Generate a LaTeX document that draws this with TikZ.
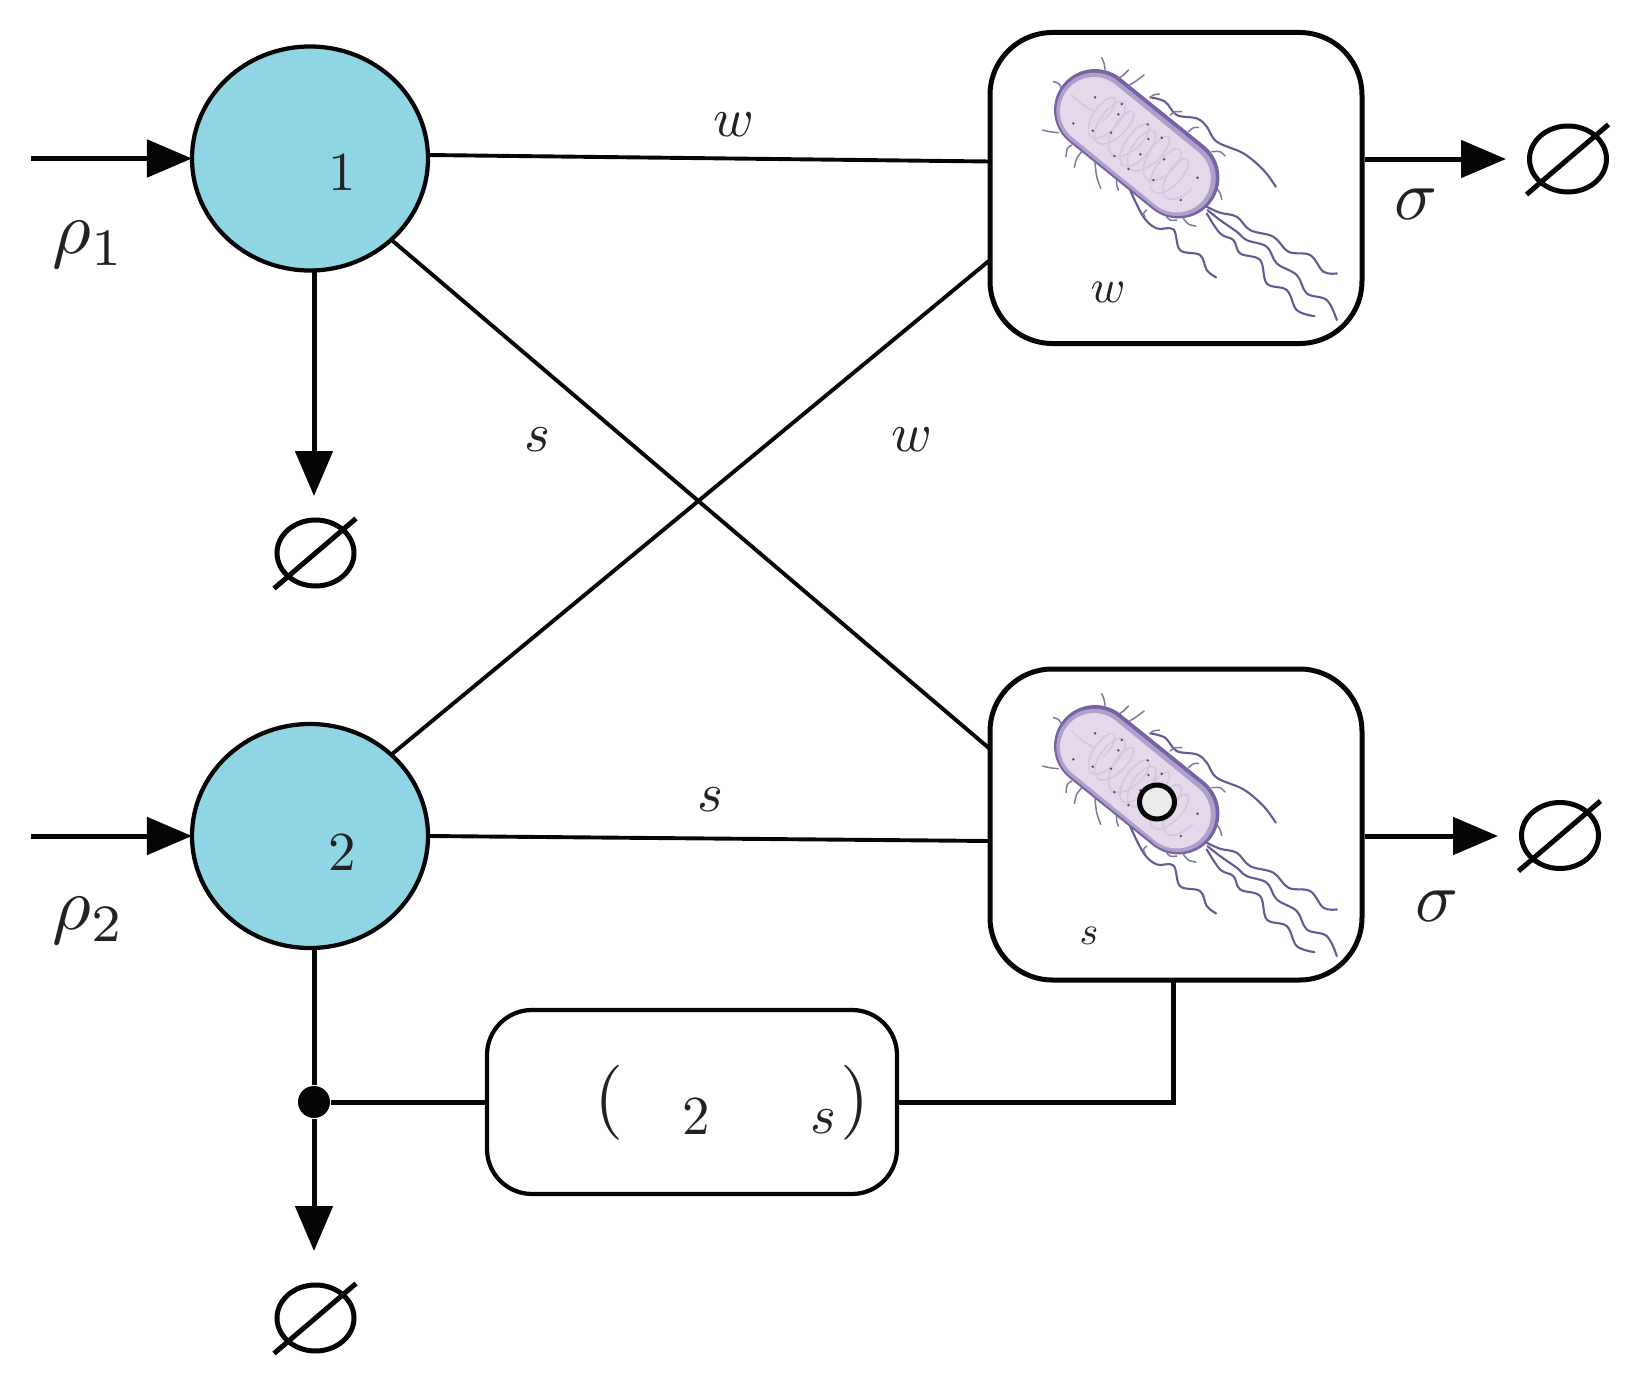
\documentclass[tikz,border=0pt]{standalone}
\usetikzlibrary{arrows.meta,shapes.geometric}
\definecolor{poolblue}{HTML}{90D5E4}
\definecolor{ink}{HTML}{050505}
\definecolor{txt}{HTML}{222222}
\definecolor{cellout}{HTML}{7563A4}
\definecolor{cellmid}{HTML}{AE9FCB}
\definecolor{cellin}{HTML}{E4D8EA}
\definecolor{hair}{HTML}{665A93}
\definecolor{hairlt}{HTML}{7F7A9C}
\definecolor{dna}{HTML}{D5C8E0}
\tikzset{
  x=0.2pt,y=-0.2pt,
  pool/.style={ellipse,draw=ink,fill=poolblue,line width=0.85pt,minimum width=47.2pt,minimum height=44.8pt,inner sep=0pt,outer sep=0pt},
  host/.style={rectangle,draw=ink,fill=white,line width=1pt,rounded corners=12.5pt,minimum width=74.4pt,minimum height=62.2pt,inner sep=0pt},
  env/.style={rectangle,draw=ink,fill=white,line width=0.85pt,rounded corners=9pt,minimum width=82pt,minimum height=36.8pt,inner sep=0pt},
  nul/.style={ellipse,draw=ink,line width=1pt,minimum width=15.4pt,minimum height=13.2pt,inner sep=0pt},
  hub/.style={circle,fill=ink,minimum size=6.4pt,inner sep=0pt},
  spore/.style={ellipse,draw=ink,fill=black!8,line width=1pt,minimum width=7pt,minimum height=6.8pt,inner sep=0pt},
  flow/.style={draw=ink,line width=1pt,-{Triangle[length=9pt,width=7.4pt]}},
  link/.style={draw=ink,line width=0.78pt},
  wire/.style={draw=ink,line width=1pt},
  slash/.style={draw=ink,line width=1pt},
  rate/.style={text=txt,inner sep=0pt,scale=1.5},
  big/.style={text=txt,inner sep=0pt,scale=1.42},
  mid/.style={text=txt,inner sep=0pt,scale=1.1},
  small/.style={text=txt,inner sep=0pt,scale=0.94},
  tiny/.style={text=txt,inner sep=0pt,scale=0.8},
  paren/.style={text=txt,inner sep=0pt,scale=1.5},
  hr/.style={draw=hair,line width=0.42pt,line cap=round,line join=round},
  pil/.style={draw=hairlt,line width=0.3pt,line cap=round,line join=round},
}
\newcommand{\nullset}[3]{%
  \node[nul] (#1) at (#2,#3) {};
  \draw[slash] ([shift={(-8.3pt,-7.1pt)}]#1.center) -- ([shift={(8.1pt,6.9pt)}]#1.center);
}
% bacterium, drawn in 1/3-pixel units from the upper-left of its crop
\newcommand{\bacterium}[2]{%
\begin{scope}[shift={(#1,#2)},x=0.0667pt,y=-0.0667pt]
  \foreach \p in {
    {(510,232)(555,245)(590,285)(650,295)(680,320)(710,365)(790,400)(850,450)(887,500)},
    {(680,560)(720,578)(770,590)(810,630)(880,650)(925,695)(990,705)(1030,755)(1070,760)},
    {(682,570)(720,600)(770,635)(800,660)(860,680)(890,730)(950,765)(980,820)(1040,840)(1070,900)},
    {(680,580)(720,640)(760,660)(780,700)(840,720)(860,790)(920,810)(950,870)(1003,888)},
    {(450,510)(490,590)(530,625)(580,628)(600,690)(660,705)(680,750)(708,772)}}
    {\draw[hr] plot[smooth,tension=0.6] coordinates {\p};}
  \foreach \p in {
    {(375,148)(372,130)(365,113)},{(415,175)(430,165)(445,150)},{(448,195)(465,185)(492,165)},
    {(510,232)(520,225)(538,222)},{(570,285)(585,275)(605,275)},{(625,335)(640,323)(655,322)},
    {(695,395)(720,395)(735,408)},{(710,505)(720,520)(725,538)},{(610,595)(625,612)(647,618)},
    {(560,590)(570,600)(590,600)},{(500,570)(490,580)(495,592)},{(245,205)(235,190)(220,185)},
    {(235,338)(210,335)(188,330)},{(275,375)(262,385)(258,410)},{(305,395)(290,415)(283,442)},
    {(345,430)(350,470)(362,505)},{(410,480)(410,495)(415,510)}}
    {\draw[pil] plot[smooth] coordinates {\p};}
  \draw[line width=16.4pt,line cap=round,cellout] (345,270) -- (595,472);
  \draw[line width=15.2pt,line cap=round,cellmid] (343,272) -- (593,474);
  \draw[line width=13.6pt,line cap=round,cellin] (342,273) -- (590,475);
  \draw[dna,line width=0.32pt] (275,225) .. controls (300,250) and (320,265) .. (345,275);
  \draw[dna,line width=0.32pt] plot[smooth,domain=0:1,samples=220,variable=\u]
    ({345+265*\u+44*sin(2880*\u)+24*cos(2880*\u)+8*sin(1130*\u)},{275+210*\u-54*sin(2880*\u)+20*cos(2880*\u)+8*cos(830*\u)});
  \foreach \d in {(345,232),(425,252),(415,283),(280,310),(338,332),(393,338),(503,313),(505,357),
                  (545,353),(403,408),(481,403),(445,447),(520,480),(602,540),(652,473),(552,418)}
    {\fill[hair!80!black] \d circle[radius=4];}
\end{scope}}
\begin{document}
\begin{tikzpicture}
\useasboundingbox (0,0) rectangle (1630,1386);
% pools
\node[pool] (c1) at (310,158.5) {};
\node[pool] (c2) at (310,836) {};
\node[mid] (n1) at (342,173) {$1$};
\node[mid] (n2) at (342,853) {$2$};
% hosts
\node[host] (b1) at (1176,188) {};
\node[host] (b2) at (1176,824.5) {};
\bacterium{980}{20}
\bacterium{980}{656}
\node[spore] (sp) at (1157,802) {};
\node[small] (bw) at (1108,292) {$w$};
\node[tiny] (bs) at (1089,936) {$s$};
% environment box
\node[env] (e) at (692,1102) {};
\node[paren] (pl) at (609,1103) {$($};
\node[mid] (p2) at (696,1117) {$2$};
\node[mid] (ps) at (823,1122) {$s$};
\node[paren] (pr) at (855,1103) {$)$};
\node[hub] (h) at (314,1102) {};
% sinks
\nullset{z1}{315.5}{553}
\nullset{z2}{315.5}{1318}
\nullset{z3}{1568}{159}
\nullset{z4}{1560}{835.5}
% connector ends
\coordinate (i1) at (31,158.5);
\coordinate (i2) at (31,836);
\coordinate (t1) at (314,496);
\coordinate (t2) at (314,1251);
\coordinate (t3) at (1506,159);
\coordinate (t4) at (1498,836);
\coordinate (a1) at (428,155);
\coordinate (b1a) at (990,161.5);
\coordinate (b1b) at (990,260);
\coordinate (b2a) at (990,749);
\coordinate (b2b) at (990,841);
\coordinate (top) at (c2.south -| h);
\coordinate (o1) at (b1.east |- t3);
\coordinate (o2) at (b2.east |- t4);
\coordinate (c) at (1173,1102);
\coordinate (d) at (1173,981);
% connectors
\draw[flow] (i1) -- (c1);
\draw[flow] (i2) -- (c2);
\draw[flow] (c1.south -| t1) -- (t1);
\draw[wire] (top) -- (h);
\draw[flow] (h) -- (t2);
\draw[flow] (o1) -- (t3);
\draw[flow] (o2) -- (t4);
\draw[link] (a1) -- (b1a);
\draw[link] (c2.east) -- (b2b);
\draw[link] (c1.-45) -- (b2a);
\draw[link] (c2.45) -- (b1b);
\draw[wire] (h) -- (e);
\draw[wire] (e) -- (c) -- (d);
% labels
\node[rate] (r1) at (89,245) {$\rho_1$};
\node[rate] (r2) at (89,921) {$\rho_2$};
\node[big] (s1) at (1416,204) {$\sigma$};
\node[big] (s2) at (1437,906) {$\sigma$};
\node[mid] (lw1) at (734,125) {$w$};
\node[mid] (ls1) at (537,440) {$s$};
\node[mid] (lw2) at (912,440) {$w$};
\node[mid] (ls2) at (710,800) {$s$};
\end{tikzpicture}
\end{document}
